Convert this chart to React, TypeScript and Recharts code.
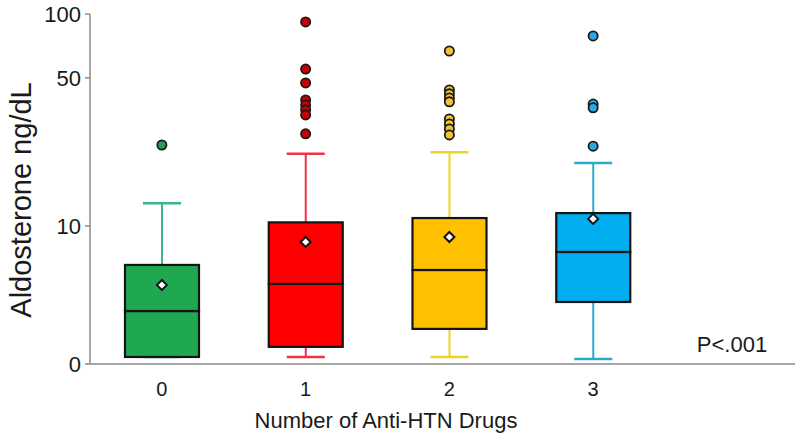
import React from 'react';
import { ComposedChart, Bar, Scatter, XAxis, YAxis } from 'recharts';

const categories = ['0', '1', '2', '3'];
const whiskerLow = [2.41, 2.41, 2.41, 2.36];
const q1 = [2.41, 2.69, 3.27, 4.38];
const medians = [3.97, 5.33, 6.2, 7.54];
const q3 = [6.55, 10.4, 10.9, 11.5];
const whiskerHigh = [12.8, 21.9, 22.3, 19.8];
const means = [5.27, 8.41, 8.87, 10.8];
const outliers0 = [24.1];
const outliers1 = [91.7, 55.0, 47.3, 39.3, 37.2, 35.3, 33.4, 27.2];
const outliers2 = [66.9, 43.8, 42.0, 40.2, 38.5, 32.0, 30.3, 28.7, 26.9];
const outliers3 = [78.8, 37.6, 36.1, 23.8];
const yTickValues = [2.233, 10, 50, 100];
const yTickLabels = ['0', '10', '50', '100'];

const boxColors = ['#1FA84F', '#FF0000', '#FFC000', '#00AEEF'];
const whiskerColors = ['#3DB58A', '#EE3344', '#EED322', '#2AAACB'];
const dotColors = ['#20A050', '#C80000', '#F2C23A', '#2AA8E0'];

const data = categories.map((c, i) => ({
  cat: c,
  low: [whiskerLow[i], q1[i]],
  boxLo: [q1[i], medians[i]],
  boxHi: [medians[i], q3[i]],
  high: [q3[i], whiskerHigh[i]],
  mean: means[i],
}));

const outlierData = [outliers0, outliers1, outliers2, outliers3].flatMap((arr, i) =>
  arr.map((v) => ({ cat: categories[i], value: v, idx: i }))
);

const FONT = '"Liberation Sans", Arial, Helvetica, sans-serif';
const CAP = 19;

const LowWhisker = (p: any) => {
  const { x, y, width, height, index } = p;
  if (height == null || isNaN(height)) return null;
  const cx = x + width / 2;
  const c = whiskerColors[index];
  return (
    <g>
      <line x1={cx} x2={cx} y1={y} y2={y + height} stroke={c} strokeWidth={2} />
      <line x1={cx - CAP} x2={cx + CAP} y1={y + height} y2={y + height} stroke={c} strokeWidth={2.5} />
    </g>
  );
};

const HighWhisker = (p: any) => {
  const { x, y, width, height, index } = p;
  if (height == null || isNaN(height)) return null;
  const cx = x + width / 2;
  const c = whiskerColors[index];
  return (
    <g>
      <line x1={cx} x2={cx} y1={y} y2={y + height} stroke={c} strokeWidth={2} />
      <line x1={cx - CAP} x2={cx + CAP} y1={y} y2={y} stroke={c} strokeWidth={2.5} />
    </g>
  );
};

const BoxPart = (p: any) => {
  const { x, y, width, height, index } = p;
  if (height == null || isNaN(height)) return null;
  return (
    <rect x={x} y={y} width={width} height={height} fill={boxColors[index]} stroke="#141414" strokeWidth={2.2} />
  );
};

const OutlierDot = (p: any) => {
  const { cx, cy, payload } = p;
  if (cx == null || cy == null) return null;
  return <circle cx={cx} cy={cy} r={4.6} fill={dotColors[payload.idx]} stroke="#1a1a1a" strokeWidth={1.8} />;
};

const MeanDiamond = (p: any) => {
  const { cx, cy } = p;
  if (cx == null || cy == null) return null;
  const r = 5;
  return (
    <polygon
      points={`${cx},${cy - r} ${cx + r},${cy} ${cx},${cy + r} ${cx - r},${cy}`}
      fill="#ffffff"
      stroke="#141414"
      strokeWidth={2}
    />
  );
};

export default function App() {
  return (
    <div style={{ position: 'absolute', left: 0, top: 0, width: 800, height: 435, background: '#fff' }}>
      <ComposedChart
        width={800}
        height={435}
        data={data}
        margin={{ top: 14, right: 5, bottom: 0, left: 0 }}
        barSize={74}
        barGap={-74}
        style={{ fontFamily: FONT }}
      >
        <XAxis
          dataKey="cat"
          type="category"
          allowDuplicatedCategory={false}
          height={71}
          padding={{ left: 0, right: 130 }}
          tickLine={false}
          tickMargin={12}
          axisLine={{ stroke: '#8a8a8a', strokeWidth: 1.5 }}
          tick={{ fill: '#1a1a1a', fontSize: 20, fontFamily: FONT }}
        />
        <YAxis
          scale="log"
          domain={[yTickValues[0], yTickValues[3]]}
          allowDataOverflow
          ticks={yTickValues}
          tickFormatter={(v: number) => yTickLabels[yTickValues.indexOf(v)] ?? ''}
          width={90}
          tickSize={5}
          tickMargin={4}
          interval={0}
          axisLine={{ stroke: '#8a8a8a', strokeWidth: 1.5 }}
          tickLine={{ stroke: '#8a8a8a', strokeWidth: 1.5 }}
          tick={{ fill: '#1a1a1a', fontSize: 22, fontFamily: FONT }}
        />
        <Bar dataKey="low" shape={LowWhisker} isAnimationActive={false} />
        <Bar dataKey="high" shape={HighWhisker} isAnimationActive={false} />
        <Bar dataKey="boxLo" shape={BoxPart} isAnimationActive={false} />
        <Bar dataKey="boxHi" shape={BoxPart} isAnimationActive={false} />
        <Scatter dataKey="mean" shape={MeanDiamond} isAnimationActive={false} />
        <Scatter data={outlierData} dataKey="value" shape={OutlierDot} isAnimationActive={false} />
        <text
          x={21}
          y={200}
          transform="rotate(-90 21 200)"
          textAnchor="middle"
          dominantBaseline="central"
          fontSize={29}
          fontFamily={FONT}
          fill="#1a1a1a"
        >
          Aldosterone ng/dL
        </text>
        <text x={386} y={428} textAnchor="middle" fontSize={22} fontFamily={FONT} fill="#1a1a1a">
          Number of Anti-HTN Drugs
        </text>
        <text x={732} y={352} textAnchor="middle" fontSize={22} fontFamily={FONT} fill="#1a1a1a">
          P&lt;.001
        </text>
      </ComposedChart>
    </div>
  );
}
